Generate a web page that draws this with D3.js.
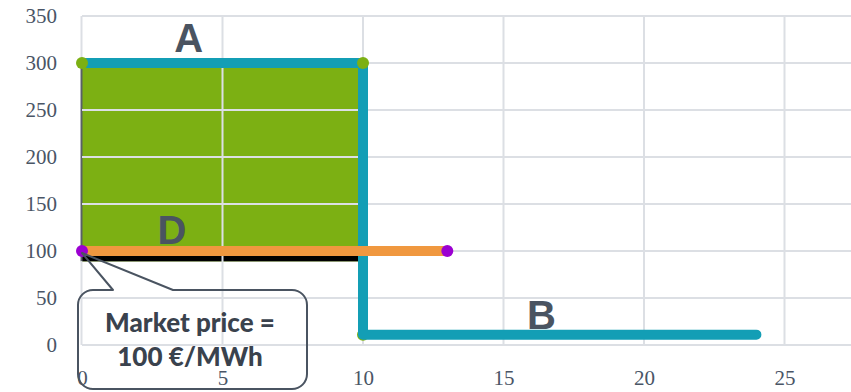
<!DOCTYPE html>
<html>
<head>
<meta charset="utf-8">
<script src="https://cdn.jsdelivr.net/npm/d3@7"></script>
<style>
  html, body { margin: 0; padding: 0; background: #ffffff; }
  svg { display: block; }
</style>
</head>
<body>
<svg id="chart" width="851" height="392"></svg>
<script>
// Axis ticks
const xTicks = [0, 5, 10, 15, 20, 25];
const yTicks = [0, 50, 100, 150, 200, 250, 300, 350];

// Supply step curve (quantity, price)
const supplyX = [0, 10, 10, 24];
const supplyY = [300, 300, 11, 11];

// Market price line
const priceX = [0, 13];
const priceY = [100, 100];

// Shaded block between the two price levels
const blockX = [0, 10];
const blockY = [89, 300];

// Marker points
const greenX = [10, 0, 10];
const greenY = [11, 300, 300];
const purpleX = [0, 13];
const purpleY = [100, 100];

// Text labels
const letterText = ["A", "D", "B"];
const letterX = [3.8, 3.2, 16.35];
const letterY = [312, 107, 17];
const calloutLines = ["Market price =", "100 €/MWh"];

const svg = d3.select("#chart");
const x = d3.scaleLinear().domain([0, 27.5]).range([82, 82 + 27.5 * 28.1]);
const y = d3.scaleLinear().domain([0, 350]).range([345, 16]);
const xMax = 27.5;

// Shaded block
svg.append("rect")
  .attr("x", x(blockX[0]))
  .attr("y", y(blockY[1]))
  .attr("width", x(blockX[1]) - x(blockX[0]))
  .attr("height", y(blockY[0]) - y(blockY[1]))
  .attr("fill", "#7cb013");

// Dark outline along the block's bottom and left side
svg.append("rect")
  .attr("x", x(blockX[0]))
  .attr("y", y(priceY[0]))
  .attr("width", x(blockX[1]) - x(blockX[0]))
  .attr("height", y(blockY[0]) - y(priceY[0]))
  .attr("fill", "#000000");
svg.append("line")
  .attr("x1", x(0) - 0.5).attr("x2", x(0) - 0.5)
  .attr("y1", y(blockY[1])).attr("y2", y(blockY[0]))
  .attr("stroke", "#5a6068").attr("stroke-width", 2);

// Gridlines
const grid = svg.append("g").attr("stroke", "#dcdfe4").attr("stroke-width", 2);
grid.selectAll("line.h").data(yTicks).join("line")
  .attr("class", "h")
  .attr("x1", x(0)).attr("x2", x(xMax))
  .attr("y1", d => y(d)).attr("y2", d => y(d));
grid.selectAll("line.v").data(xTicks.filter(d => d > 0)).join("line")
  .attr("class", "v")
  .attr("x1", d => x(d)).attr("x2", d => x(d))
  .attr("y1", y(350)).attr("y2", y(0));
grid.append("line")
  .attr("x1", x(0) - 0.5).attr("x2", x(0) - 0.5)
  .attr("y1", y(350)).attr("y2", y(blockY[1]));
grid.append("line")
  .attr("x1", x(0) - 0.5).attr("x2", x(0) - 0.5)
  .attr("y1", y(blockY[0])).attr("y2", y(0));

// Axes (labels only)
const yAxis = d3.axisLeft(y).tickValues(yTicks).tickSize(0).tickPadding(0);
svg.append("g")
  .attr("transform", `translate(57,0)`)
  .call(yAxis)
  .call(g => g.select(".domain").remove())
  .selectAll("text")
  .attr("font-family", "Liberation Serif, serif")
  .attr("font-size", 21)
  .attr("fill", "#4a5566");

const xAxis = d3.axisBottom(x).tickValues(xTicks).tickSize(0).tickPadding(0);
svg.append("g")
  .attr("transform", `translate(0,370)`)
  .call(xAxis)
  .call(g => g.select(".domain").remove())
  .selectAll("text")
  .attr("font-family", "Liberation Serif, serif")
  .attr("font-size", 21)
  .attr("fill", "#4a5566");

// Green marker under the supply curve's lower corner
svg.append("circle")
  .attr("cx", x(greenX[0])).attr("cy", y(greenY[0]))
  .attr("r", 6).attr("fill", "#7cb013");

// Supply curve
const line = d3.line().x(d => x(d[0])).y(d => y(d[1]));
svg.append("path")
  .datum(d3.zip(supplyX, supplyY))
  .attr("d", line)
  .attr("fill", "none")
  .attr("stroke", "#139eb5")
  .attr("stroke-width", 10)
  .attr("stroke-linejoin", "round")
  .attr("stroke-linecap", "round");

// Market price line
svg.append("path")
  .datum(d3.zip(priceX, priceY))
  .attr("d", line)
  .attr("fill", "none")
  .attr("stroke", "#f0983f")
  .attr("stroke-width", 10);

// Markers
svg.selectAll("circle.g").data(d3.zip(greenX, greenY).slice(1)).join("circle")
  .attr("class", "g")
  .attr("cx", d => x(d[0])).attr("cy", d => y(d[1]))
  .attr("r", 6).attr("fill", "#7cb013");
svg.selectAll("circle.p").data(d3.zip(purpleX, purpleY)).join("circle")
  .attr("class", "p")
  .attr("cx", d => x(d[0])).attr("cy", d => y(d[1]))
  .attr("r", 6).attr("fill", "#9b00d1");

// Area letters
svg.selectAll("text.letter").data(d3.zip(letterText, letterX, letterY)).join("text")
  .attr("class", "letter")
  .attr("x", d => x(d[1]))
  .attr("y", d => y(d[2]))
  .attr("text-anchor", "middle")
  .attr("font-family", "Liberation Sans, Arial, sans-serif")
  .attr("font-weight", "bold")
  .attr("font-size", 40)
  .attr("fill", "#4a5461")
  .text(d => d[0]);

// Callout pointing at the market price
const tip = [x(priceX[0]), y(priceY[0]) + 2];
const bx0 = 78, bx1 = 307, by0 = 290, by1 = 389, r = 15;
const p = d3.path();
p.moveTo(bx0 + r, by0);
p.lineTo(113, by0);
p.lineTo(tip[0], tip[1]);
p.lineTo(173, by0);
p.lineTo(bx1 - r, by0);
p.arcTo(bx1, by0, bx1, by0 + r, r);
p.lineTo(bx1, by1 - r);
p.arcTo(bx1, by1, bx1 - r, by1, r);
p.lineTo(bx0 + r, by1);
p.arcTo(bx0, by1, bx0, by1 - r, r);
p.lineTo(bx0, by0 + r);
p.arcTo(bx0, by0, bx0 + r, by0, r);
p.closePath();
svg.append("path")
  .attr("d", p.toString())
  .attr("fill", "none")
  .attr("stroke", "#4a5461")
  .attr("stroke-width", 2)
  .attr("stroke-linejoin", "round");

svg.selectAll("text.callout").data(calloutLines).join("text")
  .attr("class", "callout")
  .attr("x", 190)
  .attr("y", (d, i) => 332 + i * 34)
  .attr("text-anchor", "middle")
  .attr("font-family", "Lato, sans-serif")
  .attr("font-weight", 900)
  .attr("font-size", 26)
  .attr("fill", "#3a424d")
  .text(d => d);
</script>
</body>
</html>
